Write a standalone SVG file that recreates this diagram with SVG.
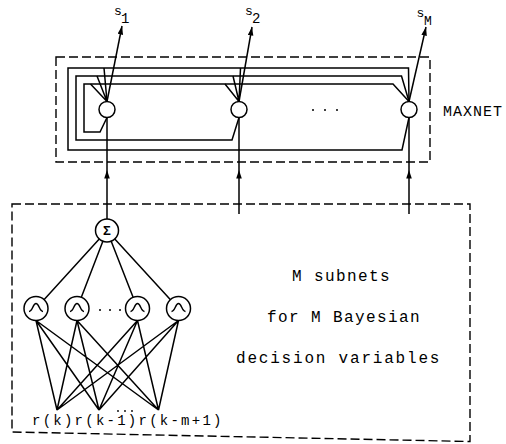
<svg xmlns="http://www.w3.org/2000/svg" width="506" height="444" viewBox="0 0 506 444">
<defs>
<marker id="ah" markerUnits="userSpaceOnUse" markerWidth="10" markerHeight="7" refX="8.5" refY="2.8" orient="auto">
<path d="M0,0 L8.5,2.8 L0,5.6 Z" fill="#000"/>
</marker>
</defs>
<style>
.ln{fill:none;stroke:#000;stroke-width:1.5}
.dash{fill:none;stroke:#000;stroke-width:1.4;stroke-dasharray:9 4}
.node{fill:#fff;stroke:#000;stroke-width:1.5}
.t{font-family:"Courier New","Liberation Mono",monospace;fill:#000}
.dot{fill:#000}
</style>
<rect width="506" height="444" fill="#fff"/>
<g id="maxnet-frame"><rect class="dash" x="56" y="57" width="374" height="105"/></g>
<g id="subnet-frame"><path class="dash" d="M12,204 L470,204 L470,441.5 L12,432 Z"/></g>
<g id="connectors">
<path class="ln" d="M409,101.5 L408.5,68 L68,68 L68,150 L402,150 L409,117.5"/>
<path class="ln" d="M239,117.5 L232,140 L76,140 L76,76 L401.5,76 L409,101.5"/>
<path class="ln" d="M107,117.5 L100,132 L84,132 L84,84 L393,84 L409,101.5"/>
<path class="ln" d="M104,68 L107,101.5 M97,76 L107,101.5 M90.5,84 L107,101.5"/>
<path class="ln" d="M240.5,68 L239,101.5 M233,76 L239,101.5 M225,84 L239,101.5"/>
<line class="ln" x1="107" y1="101.5" x2="122" y2="26" marker-end="url(#ah)"/>
<line class="ln" x1="239" y1="101.5" x2="252" y2="27" marker-end="url(#ah)"/>
<line class="ln" x1="409" y1="101.5" x2="426" y2="27" marker-end="url(#ah)"/>
<polyline class="ln" points="107,219.5 107,170 107,117.5" marker-mid="url(#ah)"/>
<polyline class="ln" points="239,214 239,170 239,117.5" marker-mid="url(#ah)"/>
<polyline class="ln" points="409,214 409,170 409,117.5" marker-mid="url(#ah)"/>
<path class="ln" d="M107,230.5 L36,308.5 M107,230.5 L77,308.5 M107,230.5 L137.5,308.5 M107,230.5 L178.5,308.5"/>
<path class="ln" d="M36,320.5 L57,410 M36,320.5 L99,410 M36,320.5 L158.5,410
M77,320.5 L57,410 M77,320.5 L99,410 M77,320.5 L158.5,410
M137.5,320.5 L57,410 M137.5,320.5 L99,410 M137.5,320.5 L158.5,410
M178.5,320.5 L57,410 M178.5,320.5 L99,410 M178.5,320.5 L158.5,410"/>
</g>
<g id="neuron-1"><circle class="node" cx="107" cy="109.5" r="8"/></g>
<g id="neuron-2"><circle class="node" cx="239" cy="109.5" r="8"/></g>
<g id="neuron-M"><circle class="node" cx="409" cy="109.5" r="8"/></g>
<g id="maxnet-dots"><circle class="dot" cx="313" cy="110" r="1"/><circle class="dot" cx="325" cy="110" r="1"/><circle class="dot" cx="337" cy="110" r="1"/></g>
<g id="sigma"><circle class="node" cx="107" cy="230.5" r="11.5"/><text x="107" y="235" text-anchor="middle" font-family="Liberation Sans, sans-serif" font-weight="bold" font-size="13">Σ</text></g>
<g id="gauss-1"><circle class="node" cx="36" cy="308.5" r="12"/><path class="ln" d="M29,311.5 C32.5,311.5 33,303.5 36,303.5 C39,303.5 39.5,311.5 43,311.5"/></g>
<g id="gauss-2"><circle class="node" cx="77" cy="308.5" r="12"/><path class="ln" d="M70,311.5 C73.5,311.5 74,303.5 77,303.5 C80,303.5 80.5,311.5 84,311.5"/></g>
<g id="gauss-3"><circle class="node" cx="137.5" cy="308.5" r="12"/><path class="ln" d="M130.5,311.5 C134,311.5 134.5,303.5 137.5,303.5 C140.5,303.5 141,311.5 144.5,311.5"/></g>
<g id="gauss-4"><circle class="node" cx="178.5" cy="308.5" r="12"/><path class="ln" d="M171.5,311.5 C175,311.5 175.5,303.5 178.5,303.5 C181.5,303.5 182,311.5 185.5,311.5"/></g>
<g id="gauss-dots"><circle class="dot" cx="100" cy="310" r="1"/><circle class="dot" cx="110" cy="310" r="1"/><circle class="dot" cx="120" cy="310" r="1"/></g>
<g id="input-dots"><circle class="dot" cx="118" cy="411" r="0.9"/><circle class="dot" cx="125" cy="411" r="0.9"/><circle class="dot" cx="132" cy="411" r="0.9"/></g>
<g id="labels">
<text class="t" x="114" y="15" font-size="13">s</text><text class="t" x="121" y="23" font-size="14">1</text>
<text class="t" x="245" y="15" font-size="13">s</text><text class="t" x="252" y="23" font-size="14">2</text>
<text class="t" x="416.5" y="16.5" font-size="13">s</text><text class="t" x="424" y="25" font-size="13">M</text>
<text class="t" x="443" y="116" font-size="15" letter-spacing="1">MAXNET</text>
<text class="t" x="292" y="281" font-size="16" letter-spacing="1.4">M subnets</text>
<text class="t" x="267" y="322" font-size="16" letter-spacing="1.4">for M Bayesian</text>
<text class="t" x="236" y="363" font-size="16" letter-spacing="1.8">decision variables</text>
<text class="t" x="32" y="425" font-size="14" letter-spacing="2.25">r(k)r(k-1)r(k-m+1)</text>
</g>
</svg>
